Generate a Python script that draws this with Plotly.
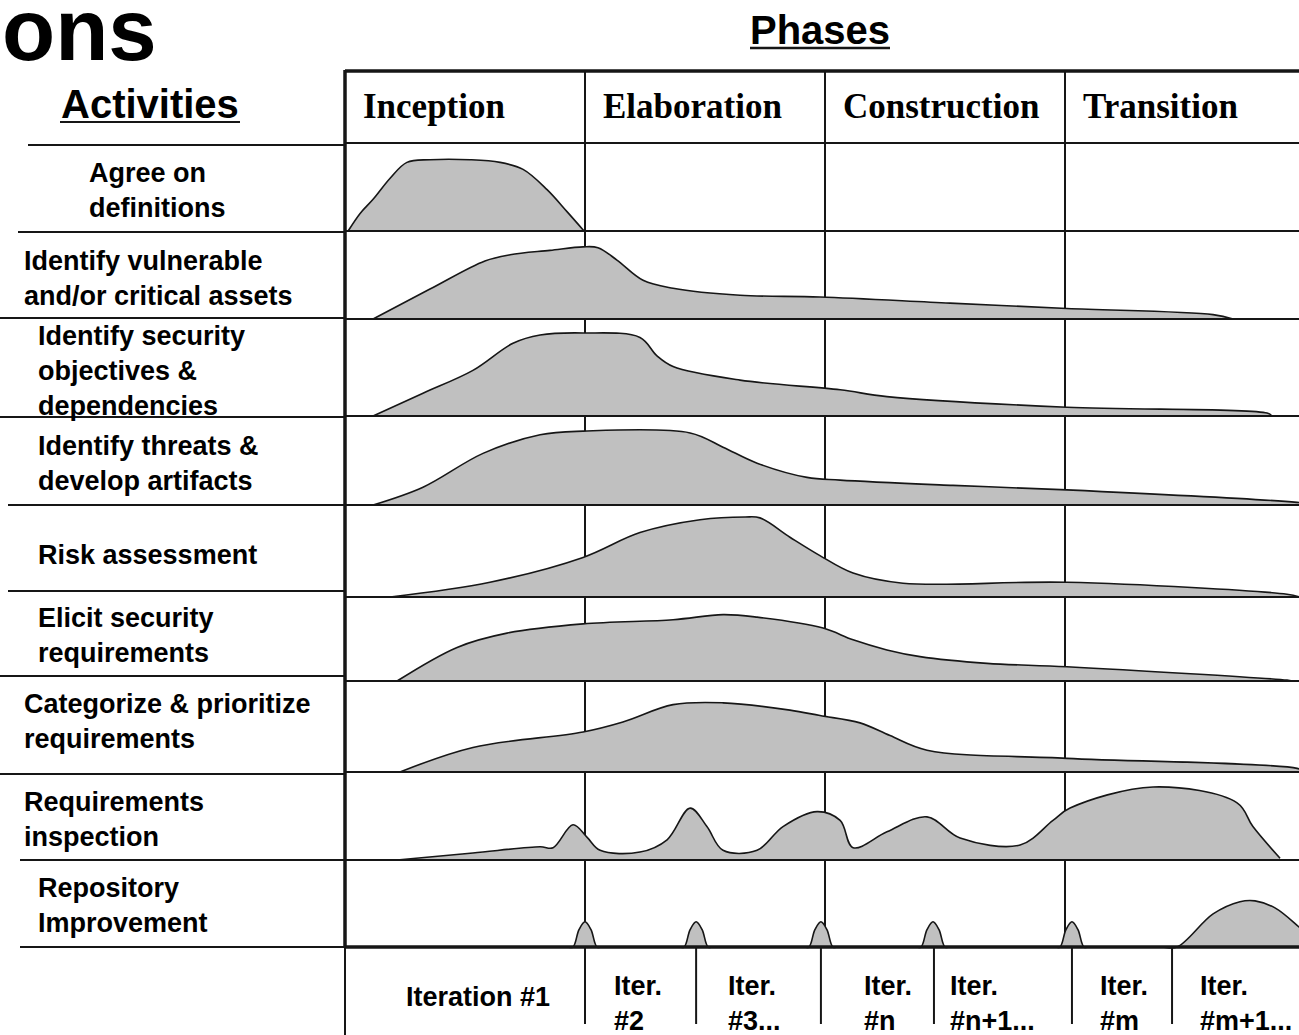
import plotly.graph_objects as go

# ---------------- data ----------------
phases = ["Inception", "Elaboration", "Construction", "Transition"]
activities = [
    "Agree on<br>definitions",
    "Identify vulnerable<br>and/or critical assets",
    "Identify security<br>objectives &<br>dependencies",
    "Identify threats &<br>develop artifacts",
    "Risk assessment",
    "Elicit security<br>requirements",
    "Categorize & prioritize<br>requirements",
    "Requirements<br>inspection",
    "Repository<br>Improvement",
]
iteration_labels = ["Iteration #1", "Iter.<br>#2", "Iter.<br>#3...", "Iter.<br>#n",
                    "Iter.<br>#n+1...", "Iter.<br>#m", "Iter.<br>#m+1..."]
# iteration boundaries in phase units (0 = start of Inception, 1 = one phase)
iteration_bounds = [0.0, 1.0, 1.463, 1.983, 2.454, 3.029, 3.446]

# effort curves: time in phase units, relative height (share of row height)
agree_t = [0.013, 0.063, 0.117, 0.188, 0.258, 0.354, 0.521, 0.646, 0.742, 0.842, 0.925, 0.996]
agree_h = [0, 0.20, 0.36, 0.60, 0.78, 0.81, 0.81, 0.78, 0.70, 0.47, 0.22, 0]

assets_t = [0.117, 0.354, 0.583, 0.688, 0.854, 0.992, 1.054, 1.133, 1.242, 1.367, 1.646, 1.979,
            2.521, 3.008, 3.617, 3.700]
assets_h = [0, 0.34, 0.66, 0.73, 0.78, 0.82, 0.81, 0.67, 0.44, 0.35, 0.27, 0.25, 0.18, 0.12, 0.05, 0]

objectives_t = [0.117, 0.325, 0.533, 0.700, 0.813, 0.992, 1.229, 1.300, 1.367, 1.646, 2.063, 2.258,
                3.008, 3.842, 3.863]
objectives_h = [0, 0.235, 0.47, 0.75, 0.835, 0.856, 0.81, 0.62, 0.51, 0.37, 0.27, 0.20, 0.09, 0.03, 0]

threats_t = [0.117, 0.325, 0.575, 0.813, 0.992, 1.438, 1.575, 1.717, 1.925, 2.063, 2.533, 3.008,
             3.967, 4.063]
threats_h = [0, 0.20, 0.58, 0.79, 0.83, 0.81, 0.65, 0.47, 0.31, 0.28, 0.22, 0.17, 0.03, 0]

risk_t = [0.188, 0.604, 0.992, 1.229, 1.479, 1.667, 1.729, 1.854, 1.979, 2.117, 2.325, 3.008,
          3.925, 3.979]
risk_h = [0, 0.16, 0.43, 0.70, 0.84, 0.87, 0.86, 0.65, 0.45, 0.26, 0.15, 0.16, 0.03, 0]

elicit_t = [0.217, 0.467, 0.675, 0.992, 1.367, 1.575, 1.717, 1.992, 2.117, 2.258, 2.396, 2.675,
            3.008, 3.925, 3.946]
elicit_h = [0, 0.40, 0.57, 0.68, 0.73, 0.79, 0.76, 0.63, 0.49, 0.37, 0.29, 0.21, 0.17, 0.01, 0]

categorize_t = [0.229, 0.533, 0.992, 1.158, 1.367, 1.575, 1.854, 1.979, 2.146, 2.271, 2.425,
                3.008, 3.967, 4.0]
categorize_h = [0, 0.27, 0.44, 0.55, 0.74, 0.76, 0.68, 0.62, 0.54, 0.40, 0.24, 0.15, 0.04, 0]

inspection_t = [0.217, 0.533, 0.813, 0.867, 0.95, 1.008, 1.063, 1.229, 1.342, 1.438, 1.508, 1.575,
                1.717, 1.825, 1.967, 2.063, 2.117, 2.258, 2.425, 2.563, 2.813, 2.950, 3.021,
                3.367, 3.717, 3.783, 3.896]
inspection_h = [0, 0.08, 0.15, 0.14, 0.40, 0.26, 0.11, 0.09, 0.23, 0.59, 0.38, 0.11,
                0.11, 0.38, 0.55, 0.45, 0.14, 0.32, 0.49, 0.25, 0.17, 0.45, 0.59,
                0.83, 0.65, 0.38, 0.02]

repository_t = [0.90, 0.925, 0.95, 0.975, 1.0, 1.025, 1.05, 1.075,
                1.388, 1.413, 1.438, 1.463, 1.488, 1.513, 1.538,
                1.908, 1.933, 1.958, 1.983, 2.008, 2.033, 2.058,
                2.375, 2.400, 2.425, 2.450, 2.475, 2.500, 2.525,
                2.954, 2.979, 3.004, 3.029, 3.054, 3.079, 3.104,
                3.400, 3.467, 3.617, 3.729, 3.792, 3.875, 3.975, 4.063]
repository_h = [0, 0, 0, 0.20, 0.29, 0.20, 0, 0,
                0, 0, 0.20, 0.29, 0.20, 0, 0,
                0, 0, 0.20, 0.29, 0.20, 0, 0,
                0, 0, 0.20, 0.29, 0.20, 0, 0,
                0, 0, 0.20, 0.29, 0.20, 0, 0,
                0, 0, 0.38, 0.52, 0.53, 0.45, 0.23, 0]

curves_t = [agree_t, assets_t, objectives_t, threats_t, risk_t, elicit_t, categorize_t,
            inspection_t, repository_t]
curves_h = [agree_h, assets_h, objectives_h, threats_h, risk_h, elicit_h, categorize_h,
            inspection_h, repository_h]

# ---------------- layout geometry ----------------
W, H = 1299, 1035
X0_PX, PHASE_PX = 345, 240


def t(px):
    return (px - X0_PX) / PHASE_PX


TOP_Y, HEAD_Y, BOT_Y = 71, 143, 947
row_lines = [143, 231, 319, 416, 505, 597, 681, 772, 860, 947]
left_lines = [145, 232, 318, 417, 505, 591, 676, 774, 860, 947]
left_start = [28, 18, 0, 0, 8, 8, 0, 0, 20, 20]
label_x = [87, 22, 36, 36, 36, 36, 22, 22, 36]
label_y = [190, 278, 371, 463, 555, 635, 721, 819, 905]
iter_label_x = [478, 612, 726, 862, 948, 1098, 1198]

SANS = "Liberation Sans, Arial, sans-serif"
SERIF = "Liberation Serif, Times New Roman, serif"
INK = "#161616"
FILL = "#c0c0c0"
XR = t(W)

fig = go.Figure()

# humps
for i, (ts, hs) in enumerate(zip(curves_t, curves_h)):
    base = row_lines[i + 1]
    rh = row_lines[i + 1] - row_lines[i]
    fig.add_trace(go.Scatter(x=[ts[0], ts[-1]], y=[base, base], mode="lines",
                             line=dict(width=0, color=FILL), hoverinfo="skip", showlegend=False))
    fig.add_trace(go.Scatter(x=ts, y=[base - h * rh for h in hs], mode="lines",
                             line=dict(color=INK, width=1.6, shape="spline", smoothing=1.0),
                             fill="tonexty", fillcolor=FILL, hoverinfo="skip", showlegend=False))

shapes = []


def hline(x0, x1, y0, y1=None, w=2, layer="above"):
    shapes.append(dict(type="line", xref="x", yref="y", x0=x0, x1=x1, y0=y0,
                       y1=y0 if y1 is None else y1, layer=layer,
                       line=dict(color=INK, width=w)))


# vertical grid (below humps)
for k in range(1, 4):
    shapes.append(dict(type="line", xref="x", yref="y", x0=k, x1=k, y0=TOP_Y, y1=BOT_Y,
                       layer="below", line=dict(color=INK, width=2)))
# iteration separators in the bottom band
for b in iteration_bounds:
    shapes.append(dict(type="line", xref="x", yref="y", x0=b, x1=b, y0=BOT_Y,
                       y1=H if b == 0 else 1024,
                       layer="below", line=dict(color=INK, width=2)))
# left border of phase table
shapes.append(dict(type="line", xref="x", yref="y", x0=0, x1=0, y0=TOP_Y - 1, y1=BOT_Y + 1,
                   layer="above", line=dict(color=INK, width=3.5)))
# header top line
hline(0, XR, TOP_Y, w=3.5)
# row lines (plot area + activity column)
for i, y in enumerate(row_lines):
    hline(0, XR, y, w=3.5 if i == len(row_lines) - 1 else 2.2)
    hline(t(left_start[i]), 0, left_lines[i], w=2)

# underlines for headings
hline(t(750), t(890), 48, w=2.5)
hline(t(60), t(240), 122, w=2.2)

annotations = []
annotations.append(dict(text="ons", x=t(159), y=29, xref="x", yref="y", xanchor="right",
                        yanchor="middle", showarrow=False,
                        font=dict(family=SANS, size=87, color="#000", weight="bold")))
annotations.append(dict(text="Phases", x=t(820), y=30, xref="x", yref="y", xanchor="center",
                        yanchor="middle", showarrow=False,
                        font=dict(family=SANS, size=40, color="#000", weight="bold")))
annotations.append(dict(text="Activities", x=t(150), y=104, xref="x", yref="y", xanchor="center",
                        yanchor="middle", showarrow=False,
                        font=dict(family=SANS, size=40, color="#000", weight="bold")))
for k, p in enumerate(phases):
    annotations.append(dict(text=p, x=k + 0.065, y=106, xref="x", yref="y", xanchor="left",
                            yanchor="middle", showarrow=False,
                            font=dict(family=SERIF, size=35, color="#000", weight="bold")))
for a, lx, ly in zip(activities, label_x, label_y):
    annotations.append(dict(text=a, x=t(lx), y=ly, xref="x", yref="y", xanchor="left",
                            yanchor="middle", align="left", showarrow=False,
                            font=dict(family=SANS, size=27, color="#000", weight="bold")))
for j, (lab, lx) in enumerate(zip(iteration_labels, iter_label_x)):
    if j == 0:
        annotations.append(dict(text=lab, x=t(lx), y=997, xref="x", yref="y", xanchor="center",
                                yanchor="middle", showarrow=False,
                                font=dict(family=SANS, size=27, color="#000", weight="bold")))
    else:
        annotations.append(dict(text=lab, x=t(lx), y=1003, xref="x", yref="y", xanchor="left",
                                yanchor="middle", align="left", showarrow=False,
                                font=dict(family=SANS, size=27, color="#000", weight="bold")))

fig.update_layout(
    width=W, height=H, margin=dict(l=0, r=0, t=0, b=0, pad=0),
    paper_bgcolor="white", plot_bgcolor="white", showlegend=False,
    xaxis=dict(range=[t(0), XR], visible=False, fixedrange=True),
    yaxis=dict(range=[H, 0], visible=False, fixedrange=True),
    shapes=shapes, annotations=annotations,
)

fig.write_html("out.html", config={"displayModeBar": False},
               post_script="document.body.style.margin='0px';document.body.style.overflow='hidden';")
